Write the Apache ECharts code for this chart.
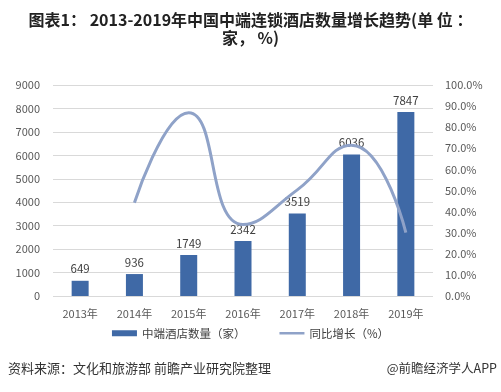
<!DOCTYPE html>
<html><head><meta charset="utf-8">
<script src="https://cdn.jsdelivr.net/npm/echarts@6/dist/echarts.min.js"></script>
<style>html,body{margin:0;padding:0;background:#fff}#c{width:501px;height:392px}</style>
</head><body><div id="c"></div>
<script>
const categories = ['2013年','2014年','2015年','2016年','2017年','2018年','2019年'];
const hotelCounts = [649, 936, 1749, 2342, 3519, 6036, 7847];
const growthRates = [null, 0.442, 0.869, 0.339, 0.503, 0.715, 0.300];
const leftTicks = [0, 9000, 1000];
const rightTicks = [0, 1, 0.1];

const chart = echarts.init(document.getElementById('c'));
const font = '"Microsoft YaHei","Noto Sans CJK SC",sans-serif';
chart.setOption({
  animation: false,
  title: {
    text: '图表1： 2013-2019年中国中端连锁酒店数量增长趋势(单 位 ：\n家， %)',
    left: 'center', top: 6,
    textStyle: {fontSize: 16, fontWeight: 'bold', color: '#222', fontFamily: font, lineHeight: 18}
  },
  grid: {left: 53, right: 68, top: 85, bottom: 96},
  legend: {
    bottom: 48, left: 'center', itemGap: 34,
    textStyle: {fontSize: 11.5, color: '#404040', fontFamily: font},
    data: [
      {name: '中端酒店数量（家）', icon: 'rect', itemStyle: {color: '#3F69A6'}},
      {name: '同比增长（%）', icon: 'path://M0,0 L10,0 L10,1 L0,1 Z', itemStyle: {color: '#8FA2C8'}}
    ],
    itemWidth: 25, itemHeight: 6
  },
  xAxis: {
    type: 'category', data: categories,
    axisLine: {show: false}, axisTick: {show: false},
    axisLabel: {fontSize: 11, color: '#595959', fontFamily: font, margin: 12}
  },
  yAxis: [{
    type: 'value', min: leftTicks[0], max: leftTicks[1], interval: leftTicks[2],
    axisLine: {show: false}, axisTick: {show: false},
    splitLine: {lineStyle: {color: '#D9D9D9'}},
    axisLabel: {fontSize: 11, color: '#595959', fontFamily: font, margin: 13, formatter: v => String(v)}
  }, {
    type: 'value', min: rightTicks[0], max: rightTicks[1], interval: rightTicks[2],
    axisLine: {show: false}, axisTick: {show: false}, splitLine: {show: false},
    axisLabel: {fontSize: 11, color: '#595959', fontFamily: font, margin: 12,
      formatter: v => (v * 100).toFixed(1) + '%'}
  }],
  series: [{
    name: '中端酒店数量（家）', type: 'bar', data: hotelCounts, barWidth: 17,
    itemStyle: {color: '#3F69A6'},
    label: {show: true, position: 'top', fontSize: 11.5, color: '#404040', fontFamily: font, distance: 6}
  }, {
    name: '同比增长（%）', type: 'line', yAxisIndex: 1, data: growthRates,
    smooth: 0.5, showSymbol: false, symbol: 'none', connectNulls: false,
    lineStyle: {color: '#8FA2C8', width: 3}, itemStyle: {color: '#8FA2C8'}
  }],
  graphic: [
    {type: 'text', left: 8, top: 362, style: {text: '资料来源：文化和旅游部 前瞻产业研究院整理', font: '13px ' + font, fill: '#333'}},
    {type: 'text', right: 4, top: 362, style: {text: '@前瞻经济学人APP', font: '12.5px ' + font, fill: '#333'}}
  ]
});
</script></body></html>
